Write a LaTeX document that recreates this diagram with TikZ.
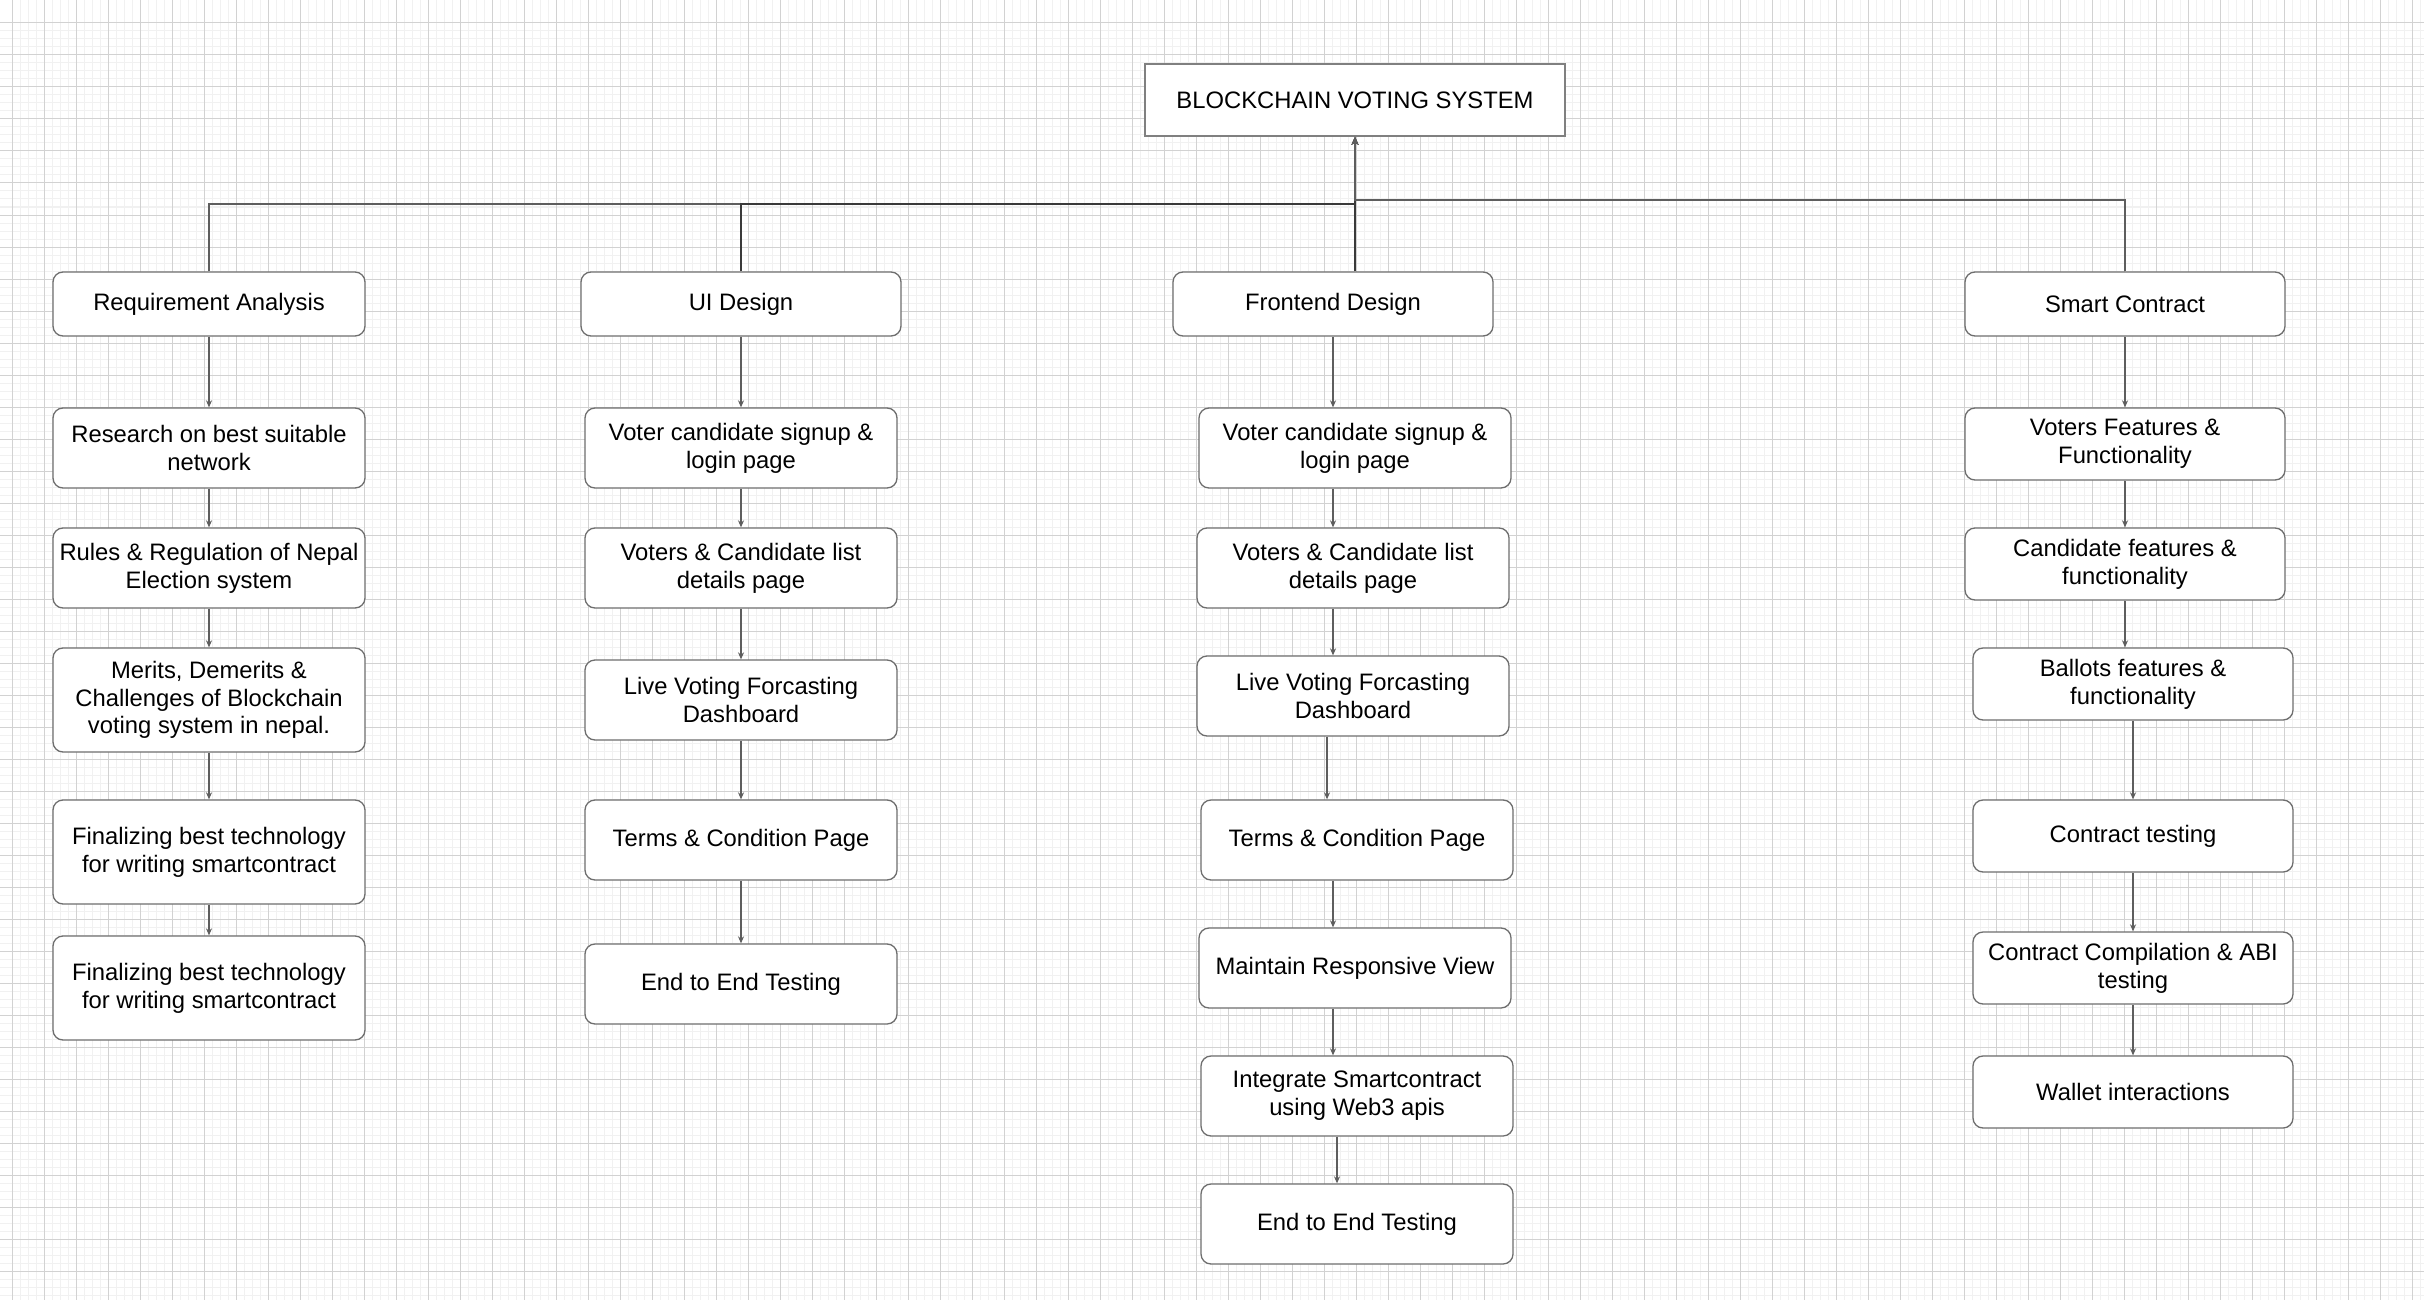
\documentclass[tikz,border=0pt]{standalone}
\usepackage{fontspec}
\setmainfont{Liberation Sans}
\usetikzlibrary{arrows.meta}
\definecolor{gridminor}{HTML}{F1F1F1}
\definecolor{gridmajor}{HTML}{D2D2D2}
\definecolor{edgecol}{HTML}{5E5E5E}
\definecolor{buscol}{HTML}{3A3A3A}
\definecolor{boxcol}{HTML}{6E6E6E}
\definecolor{topcol}{HTML}{808080}
\newcommand{\nodefont}{\fontsize{23.8pt}{27.8pt}\selectfont}
\begin{document}
\begin{tikzpicture}[x=1pt,y=-1pt,
  box/.style={draw=boxcol, line width=1.3pt, fill=white, rounded corners=10pt,
    align=center, inner sep=0pt, font=\nodefont},
  topbox/.style={draw=topcol, line width=1.7pt, fill=white, sharp corners,
    align=center, inner sep=0pt, font=\nodefont},
  sz/.style 2 args={minimum width=#1pt, minimum height=#2pt},
  arr/.style={draw=edgecol, line width=1.2pt, -{Stealth[length=7pt,width=6pt]}},
  busline/.style={draw=buscol, line width=1.4pt, -{Stealth[length=8pt,width=7pt]}}]
\fill[white] (0,0) rectangle (2424,1300);
\useasboundingbox (0,0) rectangle (2424,1300);
% grid
\foreach \x in {12,20,...,2424} \draw[gridminor, line width=1pt] (\x,0) -- (\x,1300);
\foreach \y in {23,31,...,1300} \draw[gridminor, line width=1pt] (0,\y) -- (2424,\y);
\foreach \x in {12,44,...,2424} \draw[gridmajor, line width=1pt] (\x,0) -- (\x,1300);
\foreach \y in {23,55,...,1300} \draw[gridmajor, line width=1pt] (0,\y) -- (2424,\y);

% top
\node[topbox, sz={420}{72}] (top) at (1355,100) {BLOCKCHAIN VOTING SYSTEM};

% level 1
\node[box, sz={312}{64}] (ra) at (209,304) {Requirement Analysis};
\node[box, sz={320}{64}] (ui) at (741,304) {UI Design};
\node[box, sz={320}{64}] (fe) at (1333,304) {Frontend Design};
\node[box, sz={320}{64}] (sc) at (2125,304) {Smart Contract};

% column 1
\node[box, sz={312}{80}] (r1) at (209,448) {Research on best suitable\\network};
\node[box, sz={312}{80}] (r2) at (209,568) {Rules \& Regulation of Nepal\\Election system};
\node[box, sz={312}{104}] (r3) at (209,700) {Merits, Demerits \&\\Challenges of Blockchain\\voting system in nepal.};
\node[box, sz={312}{104}] (r4) at (209,852) {Finalizing best technology\\for writing smartcontract};
\node[box, sz={312}{104}] (r5) at (209,988) {Finalizing best technology\\for writing smartcontract};

% column 2
\node[box, sz={312}{80}] (u1) at (741,448) {Voter candidate signup \&\\login page};
\node[box, sz={312}{80}] (u2) at (741,568) {Voters \& Candidate list\\details page};
\node[box, sz={312}{80}] (u3) at (741,700) {Live Voting Forcasting\\Dashboard};
\node[box, sz={312}{80}] (u4) at (741,840) {Terms \& Condition Page};
\node[box, sz={312}{80}] (u5) at (741,984) {End to End Testing};

% column 3
\node[box, sz={312}{80}] (f1) at (1355,448) {Voter candidate signup \&\\login page};
\node[box, sz={312}{80}] (f2) at (1353,568) {Voters \& Candidate list\\details page};
\node[box, sz={312}{80}] (f3) at (1353,696) {Live Voting Forcasting\\Dashboard};
\node[box, sz={312}{80}] (f4) at (1357,840) {Terms \& Condition Page};
\node[box, sz={312}{80}] (f5) at (1355,968) {Maintain Responsive View};
\node[box, sz={312}{80}] (f6) at (1357,1096) {Integrate Smartcontract\\using Web3 apis};
\node[box, sz={312}{80}] (f7) at (1357,1224) {End to End Testing};

% column 4
\node[box, sz={320}{72}] (s1) at (2125,444) {Voters Features \&\\Functionality};
\node[box, sz={320}{72}] (s2) at (2125,564) {Candidate features \&\\functionality};
\node[box, sz={320}{72}] (s3) at (2133,684) {Ballots features \&\\functionality};
\node[box, sz={320}{72}] (s4) at (2133,836) {Contract testing};
\node[box, sz={320}{72}] (s5) at (2133,968) {Contract Compilation \& ABI\\testing};
\node[box, sz={320}{72}] (s6) at (2133,1092) {Wallet interactions};

% bus to top
\coordinate (jL) at (1355,204);
\coordinate (jR) at (1355,200);
\draw[busline, draw=edgecol] (ra.north) |- (jL) -- (top.south);
\draw[busline] (ui.north) |- (jL) -- (top.south);
\draw[busline] ([xshift=22pt]fe.north) -- (top.south);
\draw[busline, draw=edgecol] (sc.north) |- (jR) -- (top.south);

% column 1 arrows
\draw[arr] (ra.south) -- (r1.north);
\draw[arr] (r1.south) -- (r2.north);
\draw[arr] (r2.south) -- (r3.north);
\draw[arr] (r3.south) -- (r4.north);
\draw[arr] (r4.south) -- (r5.north);

% column 2 arrows
\draw[arr] (ui.south) -- (u1.north);
\draw[arr] (u1.south) -- (u2.north);
\draw[arr] (u2.south) -- (u3.north);
\draw[arr] (u3.south) -- (u4.north);
\draw[arr] (u4.south) -- (u5.north);

% column 3 arrows
\draw[arr] (fe.south) -- ([xshift=-22pt]f1.north);
\draw[arr] ([xshift=-22pt]f1.south) -- ([xshift=-20pt]f2.north);
\draw[arr] ([xshift=-20pt]f2.south) -- ([xshift=-20pt]f3.north);
\draw[arr] ([xshift=-26pt]f3.south) -- ([xshift=-30pt]f4.north);
\draw[arr] ([xshift=-24pt]f4.south) -- ([xshift=-22pt]f5.north);
\draw[arr] ([xshift=-22pt]f5.south) -- ([xshift=-24pt]f6.north);
\draw[arr] ([xshift=-20pt]f6.south) -- ([xshift=-20pt]f7.north);

% column 4 arrows
\draw[arr] (sc.south) -- (s1.north);
\draw[arr] (s1.south) -- (s2.north);
\draw[arr] (s2.south) -- ([xshift=-8pt]s3.north);
\draw[arr] (s3.south) -- (s4.north);
\draw[arr] (s4.south) -- (s5.north);
\draw[arr] (s5.south) -- (s6.north);
\end{tikzpicture}
\end{document}
